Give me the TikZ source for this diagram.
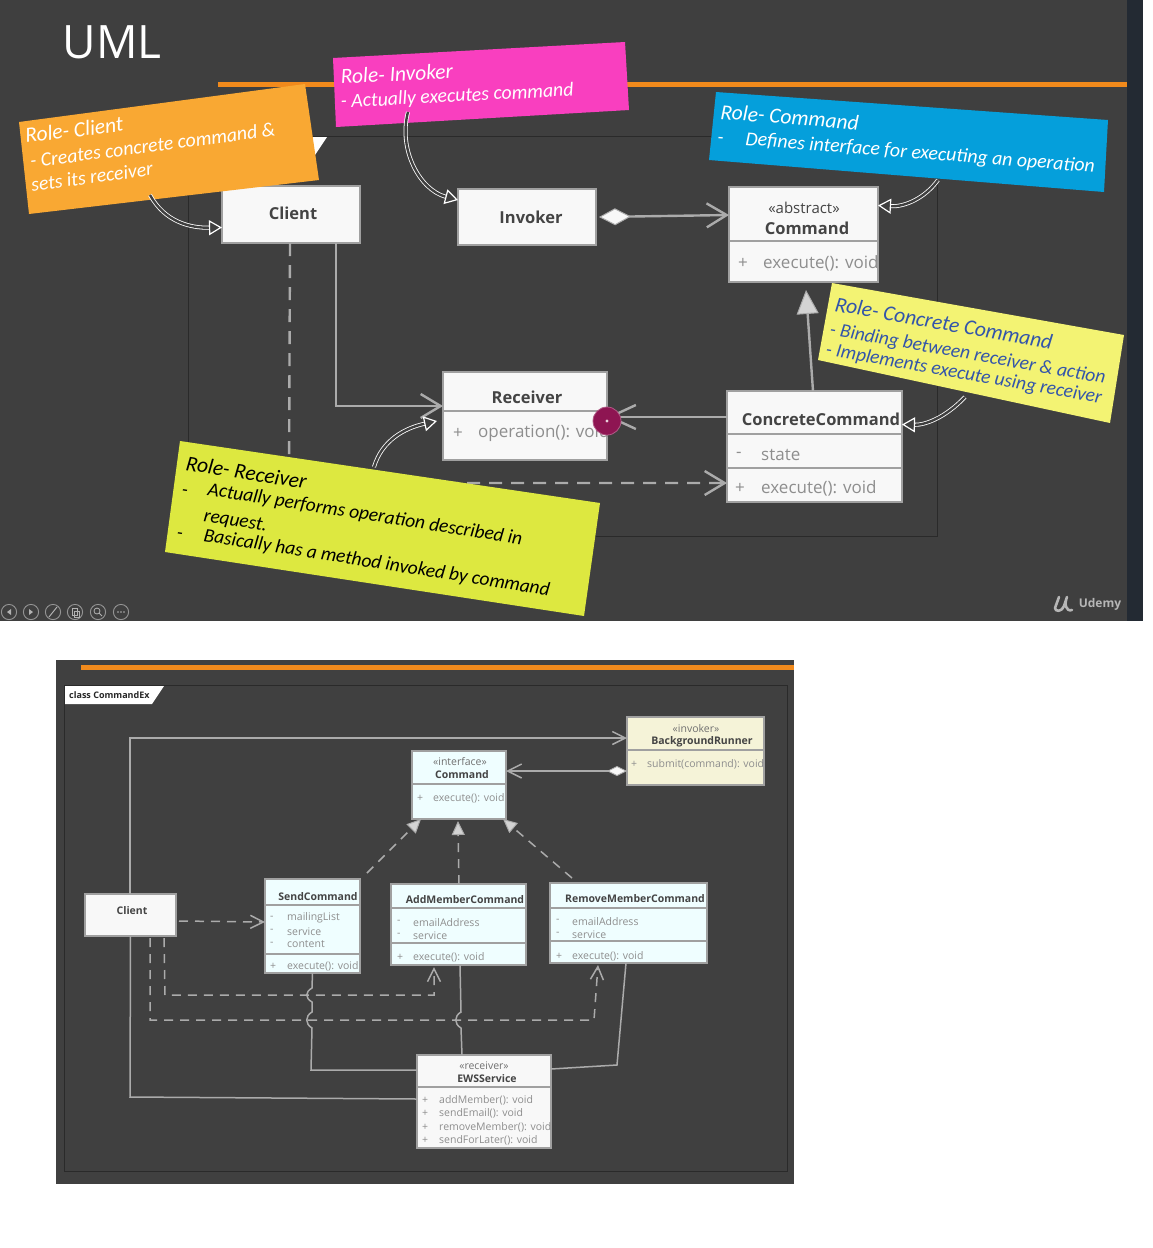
\documentclass[tikz,border=0pt]{standalone}
\usepackage{fontspec}
\setmainfont{Open Sans}
\newfontfamily\handfont{Carlito}[ItalicFont={Carlito Italic}]
\usetikzlibrary{arrows.meta,calc}
\definecolor{bgtop}{HTML}{3F3F3F}
\definecolor{bgbot}{HTML}{404040}
\definecolor{strip}{HTML}{232A33}
\definecolor{orangebar}{HTML}{F18A1C}
\definecolor{frameline}{HTML}{2A2A2A}
\definecolor{connc}{HTML}{ABABAB}
\definecolor{boxedge}{HTML}{A0A0A0}
\definecolor{boxwhite}{HTML}{F8F8F8}
\definecolor{boxcyan}{HTML}{EFFEFF}
\definecolor{boxcream}{HTML}{F5F3D8}
\definecolor{titletxt}{HTML}{444444}
\definecolor{subtxt}{HTML}{8E8E8E}
\definecolor{stereotxt}{HTML}{707070}
\definecolor{noteorange}{HTML}{F9A833}
\definecolor{notepink}{HTML}{F93FBF}
\definecolor{noteblue}{HTML}{059FDB}
\definecolor{noteyellow}{HTML}{F3F373}
\definecolor{notegreen}{HTML}{DDE840}
\definecolor{inkblue}{HTML}{3355AA}
\definecolor{dotc}{HTML}{8E1552}
\tikzset{
  x=1pt,y=-1pt,
  cls/.style={draw=boxedge,fill=boxwhite,line width=2.5pt,inner sep=0pt,outer sep=0pt},
  clsb/.style={draw=boxedge,fill=boxcyan,line width=1.4pt,inner sep=0pt,outer sep=0pt},
  divA/.style={draw=boxedge,line width=2.5pt},
  divB/.style={draw=boxedge,line width=1.2pt},
  ttl/.style={text=titletxt,font=\fontsize{16.5}{20}\selectfont\bfseries,inner sep=0pt},
  stereo/.style={text=titletxt,font=\fontsize{15}{18}\selectfont,inner sep=0pt},
  mem/.style={text=subtxt,font=\fontsize{17}{20}\selectfont,inner sep=0pt,anchor=west,yshift=-1pt},
  ttlb/.style={text=titletxt,font=\fontsize{10.5}{12}\selectfont\bfseries,inner sep=0pt,yshift=-.7pt},
  stereob/.style={text=stereotxt,font=\fontsize{10.5}{12}\selectfont,inner sep=0pt,yshift=-.5pt},
  memb/.style={text=subtxt,font=\fontsize{10.5}{12}\selectfont,inner sep=0pt,anchor=west,yshift=-1.2pt},
  conn/.style={draw=connc,line width=2.4pt},
  connb/.style={draw=connc,line width=1.5pt},
  dsh/.style={dash pattern=on 13pt off 9pt},
  dshb/.style={dash pattern=on 9pt off 7pt},
  barbA/.style={-{Straight Barb[length=20pt,width=24pt,line width=2.4pt]}},
  barbB/.style={-{Straight Barb[length=13pt,width=13pt,line width=1.5pt]}},
  triA/.style={-{Triangle[length=24pt,width=22pt,fill=boxwhite!85!black,line width=1pt]}},
  triB/.style={-{Triangle[length=14pt,width=13pt,fill=boxwhite!85!black,line width=1pt]}},
  note/.style={anchor=base west,inner sep=0pt,font=\handfont\itshape\fontsize{19.8}{24}\selectfont},
  notes/.style={font=\handfont\itshape\fontsize{19.4}{24}\selectfont},
  noteh/.style={font=\handfont\itshape\fontsize{21.5}{24}\selectfont},
  callout/.style={draw=white,line width=0.8pt,double=bgtop,double distance=2.4pt,
    -{Triangle[length=13pt,width=15pt,fill=bgtop,line width=1.2pt]}},
}
\begin{document}
\begin{tikzpicture}
\useasboundingbox (0,0) rectangle (1152,1248);
\fill[white] (0,0) rectangle (1152,1248);
% ---------- upper slide ----------
\fill[bgtop] (0,0) rectangle (1143,621);
\fill[strip] (1127,0) rectangle (1143,621);
\draw[frameline,line width=1pt] (188,136) rectangle (937,536);
\fill[white] (188,137) -- (327,137) -- (315,155) -- (188,155) -- cycle;
\fill[orangebar] (218,82) rectangle (1127,87);
\node[text=white,font=\fontsize{46}{56}\selectfont,inner sep=0pt] (umlttl) at (112,42) {UML};

% boxes
\node[cls,minimum width=138pt,minimum height=57pt] (client) at (291,214.5) {};
\node[ttl] (clientT) at (293,213) {Client};
\node[cls,minimum width=138pt,minimum height=56pt] (invoker) at (527,217) {};
\node[ttl] (invokerT) at (531,217) {Invoker};
\node[cls,minimum width=149pt,minimum height=95pt] (command) at (803.5,234.5) {};
\draw[divA] (command.west |- 0,241) -- (command.east |- 0,241);
\node[stereo] (cmdS) at (804,208) {«abstract»};
\node[ttl] (cmdT) at (807,228) {Command};
\node[mem] (cmdP) at (738,262) {+};
\node[mem] (cmdM) at (763,262) {execute(): void};
\node[cls,minimum width=164pt,minimum height=88pt] (receiver) at (525,416) {};
\draw[divA] (receiver.west |- 0,411) -- (receiver.east |- 0,411);
\node[ttl] (recT) at (527,397) {Receiver};
\node[mem] (recP) at (453,432) {+};
\node[mem] (recM) at (478,432) {operation(): void};
\node[cls,minimum width=175pt,minimum height=111pt] (concrete) at (814.5,446.5) {};
\draw[divA] (concrete.west |- 0,434) -- (concrete.east |- 0,434);
\draw[divA] (concrete.west |- 0,468) -- (concrete.east |- 0,468);
\node[ttl] (conT) at (821,419) {ConcreteCommand};
\node[mem] (conA) at (736,454) {-};
\node[mem] (conS) at (761,454) {state};
\node[mem] (conP) at (735,487) {+};
\node[mem] (conM) at (761,487) {execute(): void};

% connectors
\draw[conn,{Diamond[length=32pt,width=17pt,fill=boxwhite,line width=1pt]}-{Straight Barb[length=20pt,width=24pt,line width=2.4pt]}] ([xshift=3pt]invoker.east) -- ([yshift=19.5pt]command.west);
\draw[conn,barbA] ([xshift=45pt]client.south) -- (336,406) -- ([yshift=10pt]receiver.west);
\draw[conn,dsh,barbA] ([xshift=-1pt]client.south) -- (289,483) -- ([yshift=-36.5pt]concrete.west);
\draw[conn,triA] ([xshift=-1.5pt]concrete.north) -- ([xshift=2.5pt,yshift=-8pt]command.south);
\draw[conn,{Straight Barb[length=26pt,width=24pt,line width=2.4pt]}-] ([yshift=-1pt]receiver.east) -- ([yshift=29.5pt]concrete.west);

% notes
\fill[noteorange] (19,122) -- (305,84) -- (319,180) -- (29,214) -- cycle;
\fill[notepink] (333,58) -- (625,42) -- (629,110) -- (336,127) -- cycle;
\fill[noteblue] (716,92) -- (1108,120) -- (1104,192) -- (709,160) -- cycle;
\fill[noteyellow] (832,283) -- (1124,335) -- (1110,423) -- (818,360) -- cycle;
\fill[notegreen] (180,441) -- (600,503) -- (584,616) -- (165,552) -- cycle;

\begin{scope}[every node/.style={note,text=white}]
\node[noteh,rotate=7] (n1) at (26,143) {Role- Client};
\node[rotate=7.5] (n2) at (31,168) {- Creates concrete command \&};
\node[rotate=8] (n3) at (32,192) {sets its receiver};
\node[noteh,rotate=3] (n4) at (341,84) {Role- Invoker};
\node[rotate=3] (n5) at (341,108) {- Actually executes command};
\node[noteh,rotate=-4.5] (n6) at (720,119) {Role- Command};
\node[rotate=-4.5] (n7) at (717,143) {-};
\node[rotate=-4.5] (n8) at (745,145) {Defines interface for executing an operation};
\end{scope}
\begin{scope}[every node/.style={note,notes,text=inkblue}]
\node[noteh,rotate=-10] (n9) at (834,311) {Role- Concrete Command};
\node[rotate=-10] (n10) at (829,335) {- Binding between receiver \& action};
\node[rotate=-10] (n11) at (825,355) {- Implements execute using receiver};
\end{scope}
\begin{scope}[every node/.style={note,notes,text=black}]
\node[noteh,rotate=-9] (n12) at (185,470) {Role- Receiver};
\node[rotate=-9] (n13) at (181,495) {-};
\node[rotate=-9] (n14) at (207,495) {Actually performs operation described in};
\node[rotate=-9] (n15) at (203,521) {request.};
\node[rotate=-9] (n16) at (176,538) {-};
\node[rotate=-9] (n17) at (203,541) {Basically has a method invoked by command};
\end{scope}

% callouts
\coordinate (cOrange) at (150,195);
\coordinate (cPink) at (408,112);
\coordinate (cBlue) at (938,180);
\coordinate (cYellow) at (965,397);
\coordinate (cGreen) at (374,467);
\draw[callout] (cOrange) .. controls (165,222) and (190,228) .. ([yshift=-13pt]client.west);
\draw[callout] (cPink) .. controls (398,150) and (420,190) .. ([yshift=17pt]invoker.west);
\draw[callout] (cBlue) .. controls (925,198) and (905,207) .. ([yshift=29pt]command.east);
\draw[callout] (cYellow) .. controls (945,418) and (925,425) .. ([yshift=22pt]concrete.east);
\draw[callout] (cGreen) .. controls (382,440) and (405,428) .. ([yshift=-5pt,xshift=-6pt]receiver.west);

\node[circle,fill=dotc,draw=dotc!70!white,line width=.8pt,minimum size=28pt,inner sep=0pt] (dot) at (607,421) {};
\fill[white!80!dotc] (dot.center) circle (1.6);

% toolbar
\foreach \nm/\xx in {a/9,b/31,c/53,d/75,e/98,f/121}{
  \draw[draw=white!45!bgtop,line width=.9pt] (\xx,612) circle (7.6);
}
\fill[white!60!bgtop] (11,609) -- (7,612) -- (11,615) -- cycle;
\fill[white!60!bgtop] (29,609) -- (33,612) -- (29,615) -- cycle;
\draw[white!60!bgtop,line width=1pt] (49,617) -- (57,607);
\draw[white!60!bgtop,line width=.8pt] (72,608) rectangle (77,615) (74,611) rectangle (79,617);
\draw[white!60!bgtop,line width=.8pt] (97,611) circle (3) (99,613) -- (102,616);
\fill[white!60!bgtop] (118,612) circle (.8) (121,612) circle (.8) (124,612) circle (.8);

% logo
\draw[white!62!bgtop,line width=2.6pt,line cap=round,line join=round] (1059,597) -- (1055,608) .. controls (1055,612) and (1062,612) .. (1064,606) -- (1067,597) .. controls (1064,604) and (1066,612) .. (1072,610);
\node[text=white!62!bgtop,font=\fontsize{12}{14}\selectfont\bfseries,inner sep=0pt] (udemy) at (1100,604.5) {Udemy};

% ---------- lower slide ----------
\fill[bgbot] (56,660) rectangle (794,1184);
\fill[orangebar] (81,665) rectangle (794,670);
\draw[frameline,line width=1pt] (64,685) rectangle (787,1171);
\fill[white] (65,686) -- (164,686) -- (152,704) -- (65,704) -- cycle;
\node[anchor=west,inner sep=0pt,text=black!85,font=\fontsize{9}{11}\selectfont\bfseries] (tabT) at (69,695) {class CommandEx};

\node[clsb,minimum width=94pt,minimum height=68pt] (bcmd) at (459,785) {};
\draw[divB] (bcmd.west |- 0,784) -- (bcmd.east |- 0,784);
\node[stereob] (bcmdS) at (460,761) {«interface»};
\node[ttlb] (bcmdT) at (462,774) {Command};
\node[memb] (bcmdP) at (417,797) {+};
\node[memb] (bcmdM) at (433,797) {execute(): void};

\node[clsb,fill=boxcream,minimum width=137pt,minimum height=68pt] (brun) at (695.5,751) {};
\draw[divB] (brun.west |- 0,750) -- (brun.east |- 0,750);
\node[stereob] (brunS) at (696,728) {«invoker»};
\node[ttlb] (brunT) at (702,741) {BackgroundRunner};
\node[memb] (brunP) at (631,763) {+};
\node[memb] (brunM) at (647,763) {submit(command): void};

\node[clsb,fill=boxwhite,minimum width=91pt,minimum height=42pt] (bclient) at (130.5,915) {};
\node[ttlb] (bclientT) at (132,910) {Client};

\node[clsb,minimum width=95pt,minimum height=94pt] (bsend) at (312.5,926) {};
\draw[divB] (bsend.west |- 0,905) -- (bsend.east |- 0,905);
\draw[divB] (bsend.west |- 0,954) -- (bsend.east |- 0,954);
\node[ttlb] (bsendT) at (318,896) {SendCommand};
\node[memb] (bs1) at (270,917) {-};
\node[memb] (bs2) at (287,917) {mailingList};
\node[memb] (bs3) at (270,930) {-};
\node[memb] (bs4) at (287,930) {service};
\node[memb] (bs5) at (270,943) {-};
\node[memb] (bs6) at (287,943) {content};
\node[memb] (bs7) at (270,965) {+};
\node[memb] (bs8) at (287,965) {execute(): void};

\node[clsb,minimum width=135pt,minimum height=81pt] (badd) at (458.5,924.5) {};
\draw[divB] (badd.west |- 0,908) -- (badd.east |- 0,908);
\draw[divB] (badd.west |- 0,943) -- (badd.east |- 0,943);
\node[ttlb] (baddT) at (465,899) {AddMemberCommand};
\node[memb] (ba1) at (397,921) {-};
\node[memb] (ba2) at (413,921) {emailAddress};
\node[memb] (ba3) at (397,934) {-};
\node[memb] (ba4) at (413,934) {service};
\node[memb] (ba5) at (397,956) {+};
\node[memb] (ba6) at (413,956) {execute(): void};

\node[clsb,minimum width=157pt,minimum height=80pt] (brem) at (628.5,923) {};
\draw[divB] (brem.west |- 0,908) -- (brem.east |- 0,908);
\draw[divB] (brem.west |- 0,941) -- (brem.east |- 0,941);
\node[ttlb] (bremT) at (635,898) {RemoveMemberCommand};
\node[memb] (br1) at (556,920) {-};
\node[memb] (br2) at (572,920) {emailAddress};
\node[memb] (br3) at (556,933) {-};
\node[memb] (br4) at (572,933) {service};
\node[memb] (br5) at (556,955) {+};
\node[memb] (br6) at (572,955) {execute(): void};

\node[clsb,fill=boxwhite,minimum width=134pt,minimum height=93pt] (bews) at (484,1101.5) {};
\draw[divB] (bews.west |- 0,1087) -- (bews.east |- 0,1087);
\node[stereob] (bewsS) at (484,1065) {«receiver»};
\node[ttlb] (bewsT) at (487,1078) {EWSService};
\node[memb] (be1) at (422,1099) {+};
\node[memb] (be2) at (439,1099) {addMember(): void};
\node[memb] (be3) at (422,1112) {+};
\node[memb] (be4) at (439,1112) {sendEmail(): void};
\node[memb] (be5) at (422,1126) {+};
\node[memb] (be6) at (439,1126) {removeMember(): void};
\node[memb] (be7) at (422,1139) {+};
\node[memb] (be8) at (439,1139) {sendForLater(): void};

\draw[connb,barbB] ([xshift=-0.5pt]bclient.north) -- (130,738) -- ([yshift=13pt]brun.west);
\draw[connb,{Diamond[length=20pt,width=10pt,fill=boxwhite,line width=.8pt]}-{Straight Barb[length=14pt,width=14pt,line width=1.5pt]}] ([yshift=-20pt]brun.west) -- ([yshift=14pt]bcmd.east);
\draw[connb,dshb,triB] ([xshift=54.5pt,yshift=6pt]bsend.north) -- ([xshift=-38pt]bcmd.south);
\draw[connb,dshb,triB] ([xshift=0.5pt]badd.north) -- ([xshift=-1pt,yshift=-2pt]bcmd.south);
\draw[connb,dshb,triB] ([xshift=-56.5pt,yshift=5pt]brem.north) -- ([xshift=44pt]bcmd.south);
\draw[connb,dshb,barbB] ([xshift=3pt,yshift=-6pt]bclient.east) -- ([yshift=4pt]bsend.west);
\draw[connb,dshb,barbB] ([xshift=33.5pt,yshift=-2pt]bclient.south) -- (165,995) -- (434,995) -- ([xshift=-24.5pt,yshift=-2pt]badd.south);
\draw[connb,dshb,barbB] ([xshift=19.5pt,yshift=-2pt]bclient.south) -- (150,1020) -- (594,1020) -- ([xshift=-30.5pt,yshift=-2pt]brem.south);
\draw[connb] (bsend.south) -- (312,988) .. controls (305,992) and (305,998) .. (312,1002) -- (312,1012) .. controls (305,1016) and (305,1024) .. (312,1028) -- (311,1070) -- ([yshift=31.5pt]bews.west);
\draw[connb] ([xshift=1.5pt]badd.south) -- (461,1012) .. controls (454,1016) and (454,1024) .. (461,1028) -- ([xshift=-22pt]bews.north);
\draw[connb] ([xshift=-2.5pt]brem.south) -- (617,1065) -- ([yshift=32.5pt]bews.east);
\draw[connb] (bclient.south) -- (130,1097) -- ([yshift=2.5pt]bews.west);
\end{tikzpicture}
\end{document}
